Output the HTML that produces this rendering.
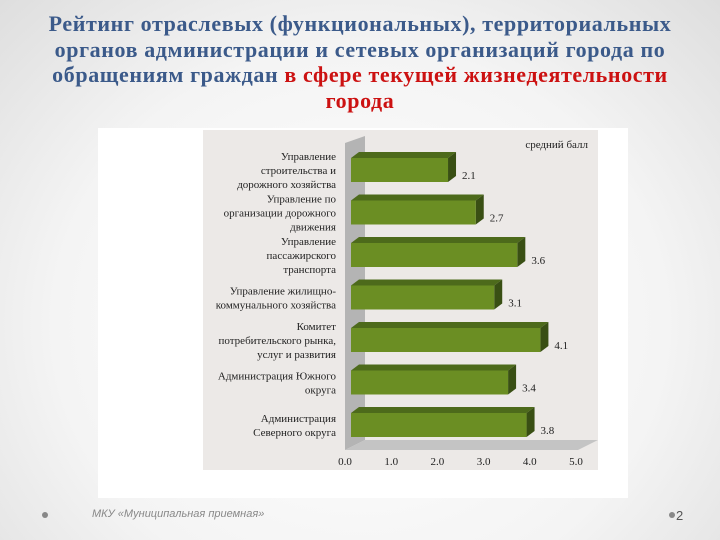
<!DOCTYPE html>
<html><head><meta charset="utf-8"><style>
body{margin:0;width:720px;height:540px;overflow:hidden;background:radial-gradient(ellipse at 50% 60%,#ffffff 0%,#f4f4f4 60%,#dedede 100%);font-family:"Liberation Serif","Noto Serif CJK SC",serif;}
#title{position:absolute;left:0;top:11px;width:720px;text-align:center;font-size:22px;font-weight:bold;line-height:25.5px;color:#3b5a8a;letter-spacing:0.6px;white-space:nowrap;}
#title .red{color:#cc1111;}
</style></head><body>
<div id="title">Рейтинг отраслевых (функциональных), территориальных<br>органов администрации и сетевых организаций города по<br>обращениям граждан <span class="red">в сфере текущей жизнедеятельности<br>города</span></div>
<svg id="chart" width="720" height="540" style="position:absolute;left:0;top:0">
<rect x="98" y="128" width="530" height="370" fill="#ffffff"/>
<rect x="203" y="130" width="395" height="340" fill="#ece9e7"/>
<polygon points="345,143 365,136 365,440 345,450" fill="#b4b4b4"/>
<polygon points="345,450 365,440 598,440 578,450" fill="#c4c4c4"/>
<text x="588" y="148" font-size="11" text-anchor="end" fill="#222">средний балл</text>
<g id="bars"></g><g id="labels"></g><g id="ticks"></g>
<text x="92" y="517" font-size="11" font-style="italic" fill="#888" font-family="Liberation Sans,sans-serif">МКУ «Муниципальная приемная»</text>
<circle cx="45" cy="515" r="3" fill="#888"/>
<circle cx="672" cy="515" r="3" fill="#888"/>
<text x="676" y="520" font-size="13" fill="#555" font-family="Liberation Sans,sans-serif">2</text>
</svg>
<script>
const categories=[["Управление","строительства и","дорожного хозяйства"],["Управление по","организации дорожного","движения"],["Управление","пассажирского","транспорта"],["Управление жилищно-","коммунального хозяйства"],["Комитет","потребительского рынка,","услуг и развития"],["Администрация Южного","округа"],["Администрация","Северного округа"]];
const values=[2.1,2.7,3.6,3.1,4.1,3.4,3.8];
const valueLabels=["2.1","2.7","3.6","3.1","4.1","3.4","3.8"];
const ticks=[0,1,2,3,4,5];
const tickLabels=["0.0","1.0","2.0","3.0","4.0","5.0"];
const NS="http://www.w3.org/2000/svg";
const x=v=>351+v*46.2;
const yTop=i=>158+i*42.5;
const bh=24,dx=8,dy=6;
function mk(tag,attrs,parent){const e=document.createElementNS(NS,tag);for(const k in attrs)e.setAttribute(k,attrs[k]);parent.appendChild(e);return e;}
const gb=document.getElementById('bars'),gl=document.getElementById('labels'),gt=document.getElementById('ticks');
values.forEach((v,i)=>{
 const x0=x(0),x1=x(v),y=yTop(i);
 const g=mk('g',{},gb);
 
 
 mk('polygon',{points:`${x0},${y} ${x0+dx},${y-dy} ${x1+dx},${y-dy} ${x1},${y}`,fill:'#4d6a1b'},g);
 mk('polygon',{points:`${x1},${y} ${x1+dx},${y-dy} ${x1+dx},${y+bh-dy} ${x1},${y+bh}`,fill:'#394f14'},g);
 mk('rect',{x:x0,y:y,width:x1-x0,height:bh,fill:'#6b8e23'},g);
 const t=mk('text',{x:x1+14,y:y+bh-3,'font-size':11,fill:'#222'},gl);
 t.textContent=valueLabels[i];
 
 
 const lines=categories[i];
 const lt=mk('text',{'font-size':11,fill:'#222','text-anchor':'end'},gl);
 
 
 const lh=14,startY=y+bh/2+4-(lines.length-1)*lh/2;
 lines.forEach((s,j)=>{const ts=mk('tspan',{x:336,y:startY+j*lh},lt);ts.textContent=s;});
});
ticks.forEach((v,i)=>{
 const t=mk('text',{x:x(v)-6,y:465,'font-size':11,fill:'#222','text-anchor':'middle'},gt);
 t.textContent=tickLabels[i];
 
 
});
</script>
</body></html>
